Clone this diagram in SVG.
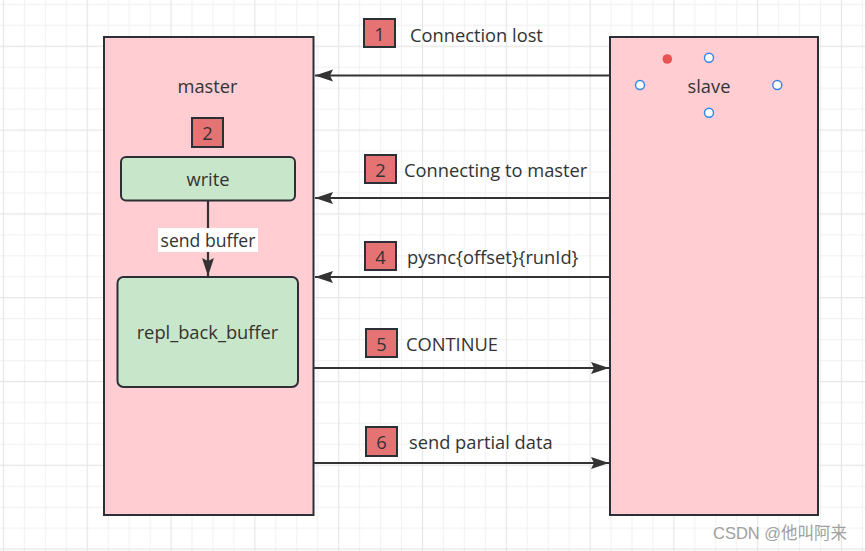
<svg xmlns="http://www.w3.org/2000/svg" width="865" height="551" viewBox="0 0 865 551">
<style>
text{font-family:"Open Sans","Noto Sans","Liberation Sans",sans-serif;fill:#333;font-size:18.3px}
.c{text-anchor:middle}
.box{fill:#ffcdd2;stroke:#2b3036;stroke-width:2}
.green{fill:#c8e6c9;stroke:#2b3036;stroke-width:2}
.badge{fill:#e57373;stroke:#2b3036;stroke-width:2}
.ln{stroke:#333;stroke-width:2.2;fill:none}
.port{fill:#fff;stroke:#2f86e8;stroke-width:1.4}
</style>
<defs>
<pattern id="grid" patternUnits="userSpaceOnUse" x="-7" y="35.7" width="83.8" height="83.8">
<path d="M31.45 0V83.8M52.4 0V83.8M73.35 0V83.8M0 31.45H83.8M0 52.4H83.8M0 73.35H83.8" stroke="#f2f2f2" stroke-width="1.2"/>
<path d="M10.5 0V83.8M0 10.5H83.8" stroke="#e6e6e6" stroke-width="1.2"/>
</pattern>
<marker id="ah" markerUnits="userSpaceOnUse" markerWidth="20" markerHeight="14" refX="18" refY="6" orient="auto">
<path d="M0 0L18 6L0 12L3 6Z" fill="#333"/>
</marker>
</defs>
<rect width="865" height="551" fill="#fff"/>
<rect width="865" height="551" fill="url(#grid)"/>

<g id="master">
<rect class="box" x="104" y="37" width="209.5" height="478"/>
<text class="c" x="207.5" y="93">master</text>
</g>
<g id="badge-master-2">
<rect class="badge" x="192" y="118" width="31" height="29"/>
<text class="c" x="207.5" y="140">2</text>
</g>
<g id="write">
<rect class="green" x="121" y="157" width="174" height="43.5" rx="5"/>
<text class="c" x="208" y="185.5">write</text>
</g>
<g id="repl_back_buffer">
<rect class="green" x="117.5" y="277" width="180.5" height="110" rx="6"/>
<text class="c" x="207.5" y="339">repl_back_buffer</text>
</g>
<g id="slave">
<rect class="box" x="610" y="37" width="208" height="478"/>
<text class="c" x="709" y="93">slave</text>
<circle cx="667.3" cy="59" r="4.8" fill="#e85454"/>
<circle class="port" cx="709" cy="57.7" r="4.5"/>
<circle class="port" cx="640" cy="85" r="4.5"/>
<circle class="port" cx="777.3" cy="85" r="4.5"/>
<circle class="port" cx="709" cy="112.7" r="4.5"/>
</g>

<g id="connectors">
<line class="ln" x1="208" y1="200.5" x2="208" y2="276" marker-end="url(#ah)"/>
<rect x="158" y="228" width="100" height="24" fill="#fff"/>
<text class="c" x="208" y="247" style="font-size:17.6px">send buffer</text>

<line class="ln" x1="610" y1="75.5" x2="315" y2="75.5" marker-end="url(#ah)"/>
<line class="ln" x1="610" y1="198" x2="315" y2="198" marker-end="url(#ah)"/>
<line class="ln" x1="610" y1="277" x2="315" y2="277" marker-end="url(#ah)"/>
<line class="ln" x1="313.5" y1="368" x2="609" y2="368" marker-end="url(#ah)"/>
<line class="ln" x1="313.5" y1="463" x2="609" y2="463" marker-end="url(#ah)"/>
</g>

<g id="label-1">
<rect class="badge" x="364" y="19" width="31" height="28"/>
<text class="c" x="379.5" y="41">1</text>
<text x="410" y="41.5">Connection lost</text>
</g>
<g id="label-2">
<rect class="badge" x="365" y="155" width="31" height="28"/>
<text class="c" x="380.5" y="177">2</text>
<text x="404" y="176.7">Connecting to master</text>
</g>
<g id="label-4">
<rect class="badge" x="365" y="242" width="31" height="28"/>
<text class="c" x="380.5" y="264">4</text>
<text x="407" y="264">pysnc{offset}{runId}</text>
</g>
<g id="label-5">
<rect class="badge" x="366" y="329" width="31" height="28"/>
<text class="c" x="381.5" y="351">5</text>
<text x="406" y="351">CONTINUE</text>
</g>
<g id="label-6">
<rect class="badge" x="366" y="427" width="31" height="29"/>
<text class="c" x="381.5" y="449">6</text>
<text x="409" y="448.5">send partial data</text>
</g>

<text x="713" y="539" style="font-size:16.5px;fill:#a0a0a0;font-family:'Liberation Sans','Noto Sans CJK SC',sans-serif">CSDN @他叫阿来</text>
</svg>
